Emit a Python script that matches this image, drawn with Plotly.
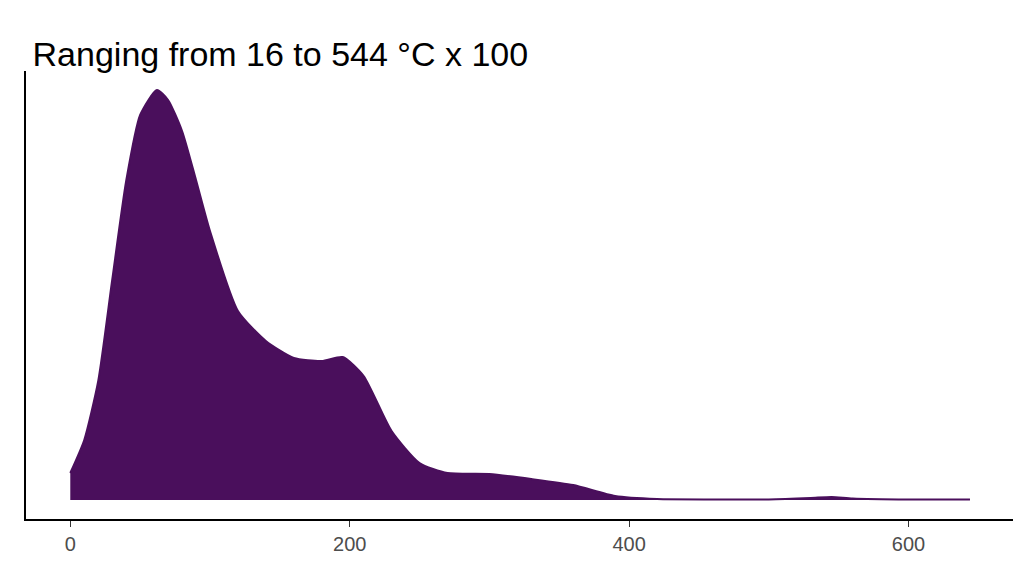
import plotly.graph_objects as go

temp = [0, 10, 20, 30, 40, 50, 62, 70, 80, 90, 100, 120, 140, 160, 180, 195, 210, 230, 250, 270, 300, 330, 360, 390, 420, 460, 500, 530, 545, 560, 600, 644]
density = [27, 60, 119, 220, 319, 385, 410, 400, 369, 320, 269, 189, 159, 142, 139, 143, 124, 69, 37, 27, 26, 21, 15, 4, 1, 0.6, 0.6, 2, 3, 1.5, 0.5, 0.5]

fig = go.Figure(go.Scatter(
    x=temp, y=density, mode="lines", fill="tozeroy",
    line=dict(color="#4A0F5C", width=2, shape="spline", smoothing=0.6),
    fillcolor="#4A0F5C", hoverinfo="skip"))

fig.update_layout(
    width=1024, height=576, plot_bgcolor="white", paper_bgcolor="white",
    margin=dict(l=18, r=19, t=63, b=65), showlegend=False,
    font=dict(family="Liberation Sans, Arial", color="#4d4d4d"),
    title=dict(text="Ranging from 16 to 544 °C x 100", x=0.024, y=0.94,
               xanchor="left", font=dict(size=34, color="black")))
fig.update_xaxes(range=[-31.7, 674.8], tickvals=[0, 200, 400, 600],
                 showgrid=False, zeroline=False, showline=True, linecolor="black",
                 linewidth=2, ticks="outside", ticklen=6, tickcolor="#333",
                 tickfont=dict(size=20, color="#4d4d4d"))
fig.update_yaxes(range=[-19, 429], showticklabels=False, showgrid=False,
                 zeroline=False, showline=True, linecolor="black", linewidth=2)

fig.write_html("out.html")
